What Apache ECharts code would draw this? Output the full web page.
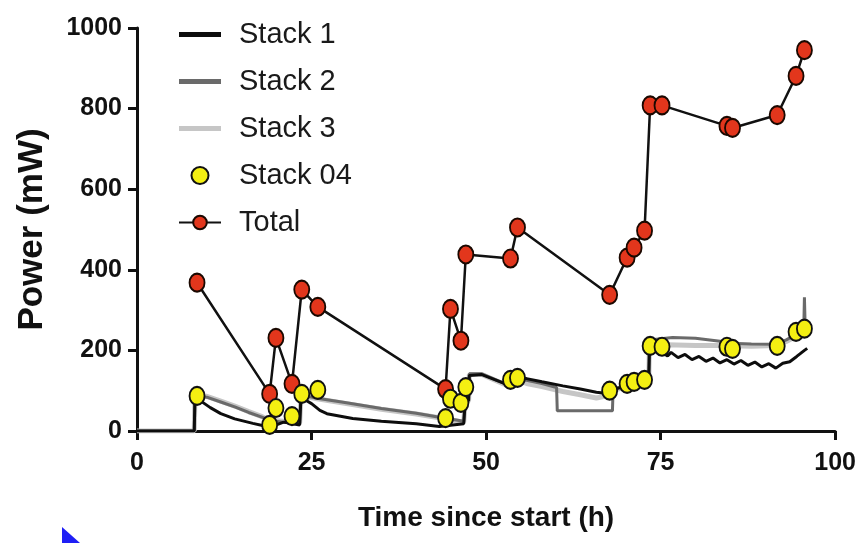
<!DOCTYPE html>
<html>
<head>
<meta charset="utf-8">
<script src="https://cdn.jsdelivr.net/npm/echarts@6/dist/echarts.min.js"></script>
<style>
  html, body { margin: 0; padding: 0; background: #fff; }
  #chart { width: 859px; height: 543px; }
</style>
</head>
<body>
<div id="chart"></div>
<script>
// Axis ticks
const xTicks = [0, 25, 50, 75, 100];
const yTicks = [0, 200, 400, 600, 800, 1000];

// Continuous logging of each stack (time in h, power in mW)
const stack1Time  = [0, 8.2, 8.3, 9.0, 10.5, 12.0, 14.0, 16.6, 18.6, 19.5, 21.0, 23.3, 23.5, 24.3, 25.0, 26.2, 27.2, 30.9, 35.0, 40.0, 43.3, 46.8, 47.0, 47.5, 47.6, 49.4, 52.6, 53.5, 54.5, 55.8, 58.0, 61.0, 63.5, 65.8, 68.0, 68.2, 70.0, 72.7, 73.3, 73.4, 75.0, 76.0, 76.5, 77.5, 78.5, 79.5, 80.5, 81.5, 82.5, 83.5, 84.5, 85.5, 86.5, 87.5, 88.5, 89.5, 90.5, 91.5, 92.5, 93.5, 94.5, 95.6, 96.0];
const stack1Power = [0, 0, 80, 76, 58, 43, 30, 19, 11, 12, 22, 15, 88, 75, 68, 51, 43, 31, 24, 18, 11, 18, 70, 76, 138, 140, 118, 124, 130, 130, 122, 112, 104, 96, 92, 102, 112, 124, 128, 200, 198, 186, 195, 182, 190, 177, 185, 173, 181, 169, 177, 166, 175, 163, 171, 159, 167, 156, 168, 172, 185, 200, 205];

const stack2Time  = [0, 8.2, 8.3, 10.0, 12.0, 14.0, 16.0, 18.0, 19.0, 21.0, 23.3, 23.5, 25.8, 30.0, 35.0, 40.0, 43.3, 46.8, 47.0, 47.5, 47.6, 49.4, 52.6, 53.5, 54.5, 55.8, 58.0, 60.1, 60.2, 68.1, 68.2, 70.0, 72.7, 73.3, 73.4, 76.7, 80.0, 83.8, 85.0, 88.0, 91.5, 93.0, 95.5, 95.6, 95.7];
const stack2Power = [0, 0, 86, 84, 72, 60, 46, 34, 26, 22, 18, 90, 81, 70, 56, 44, 34, 24, 72, 78, 142, 142, 118, 124, 130, 126, 118, 108, 50, 50, 104, 114, 124, 130, 226, 232, 230, 222, 218, 216, 215, 226, 250, 332, 265];

const stack3Time  = [0, 8.2, 8.3, 10.0, 12.0, 14.0, 16.0, 18.0, 19.0, 21.0, 23.3, 23.5, 25.8, 30.0, 35.0, 40.0, 43.3, 46.8, 47.0, 47.5, 47.6, 49.4, 52.6, 53.5, 54.5, 55.8, 58.0, 61.0, 63.5, 65.8, 68.0, 68.2, 70.0, 72.7, 73.3, 73.4, 76.0, 80.0, 84.0, 88.0, 91.5, 93.0, 95.5];
const stack3Power = [0, 0, 88, 86, 74, 62, 48, 35, 27, 24, 20, 88, 80, 68, 54, 42, 33, 22, 70, 76, 140, 140, 116, 122, 126, 118, 110, 98, 90, 82, 90, 100, 110, 120, 124, 212, 214, 212, 212, 210, 212, 222, 246];

// Spot measurements
const spotTime     = [8.6, 19.0, 19.9, 22.2, 23.6, 25.9, 44.2, 44.9, 46.4, 47.1, 53.5, 54.5, 67.7, 70.2, 71.2, 72.7, 73.5, 75.2, 84.5, 85.3, 91.7, 94.4, 95.6];
const stack04Power = [87, 15, 57, 37, 92, 102, 32, 80, 70, 109, 127, 132, 100, 117, 122, 127, 211, 209, 209, 204, 211, 246, 254];
const totalPower   = [368, 92, 231, 117, 351, 308, 104, 303, 224, 438, 428, 505, 338, 430, 455, 497, 808, 808, 757, 752, 784, 881, 945];

const pairs = (xs, ys) => xs.map((x, i) => [x, ys[i]]);

const sans = 'Liberation Sans, Arial, Helvetica, sans-serif';
const tickFont = { fontFamily: sans, fontWeight: 'bold', fontSize: 25, color: '#111' };
const axisLine = { show: true, lineStyle: { color: '#111', width: 3 } };
const axisTick = { show: true, length: 9, lineStyle: { color: '#111', width: 3 } };
// plain bar icon for the continuous traces in the legend
const barIcon = 'path://M0 0H42V5H0Z';

const chart = echarts.init(document.getElementById('chart'), null, { renderer: 'canvas' });
chart.setOption({
  animation: false,
  backgroundColor: '#fff',
  grid: { left: 137, right: 23, top: 28, bottom: 112, containLabel: false },
  legend: {
    orient: 'vertical',
    left: 173,
    top: 13,
    itemWidth: 42,
    itemHeight: 17,
    itemGap: 14,
    textStyle: { fontFamily: sans, fontSize: 29, color: '#1a1a1a', padding: [0, 0, 0, 13], lineHeight: 33 },
    data: [
      { name: 'Stack 1', icon: barIcon, itemStyle: { color: '#0d0d0d' } },
      { name: 'Stack 2', icon: barIcon, itemStyle: { color: '#6a6a6a' } },
      { name: 'Stack 3', icon: barIcon, itemStyle: { color: '#c6c6c6' } },
      { name: 'Stack 04' },
      { name: 'Total' }
    ]
  },
  xAxis: {
    type: 'value', min: 0, max: 100, interval: 25,
    name: 'Time since start (h)', nameLocation: 'middle', nameGap: 73,
    nameTextStyle: { fontFamily: sans, fontWeight: 'bold', fontSize: 28, color: '#111' },
    axisLine, axisTick,
    axisLabel: Object.assign({ margin: 20, formatter: v => xTicks.includes(v) ? String(v) : '' }, tickFont),
    splitLine: { show: false }
  },
  yAxis: {
    type: 'value', min: 0, max: 1000, interval: 200,
    name: 'Power (mW)', nameLocation: 'middle', nameGap: 87, nameRotate: 90,
    nameTextStyle: { fontFamily: sans, fontWeight: 'bold', fontSize: 35, color: '#111' },
    axisLine, axisTick,
    axisLabel: Object.assign({ margin: 15, formatter: v => yTicks.includes(v) ? String(v) : '' }, tickFont),
    splitLine: { show: false }
  },
  series: [
    {
      name: 'Stack 3', type: 'line', symbol: 'none', z: 2,
      data: pairs(stack3Time, stack3Power),
      lineStyle: { color: '#c6c6c6', width: 5 }, itemStyle: { color: '#c6c6c6' }
    },
    {
      name: 'Stack 2', type: 'line', symbol: 'none', z: 3,
      data: pairs(stack2Time, stack2Power),
      lineStyle: { color: '#6a6a6a', width: 3 }, itemStyle: { color: '#6a6a6a' }
    },
    {
      name: 'Stack 1', type: 'line', symbol: 'none', z: 4,
      data: pairs(stack1Time, stack1Power),
      lineStyle: { color: '#0d0d0d', width: 3 }, itemStyle: { color: '#0d0d0d' }
    },
    {
      name: 'Total', type: 'line', symbol: 'circle', symbolSize: [15, 18], z: 5,
      data: pairs(spotTime, totalPower),
      lineStyle: { color: '#111', width: 2.5 },
      itemStyle: { color: '#e2361c', borderColor: '#1a0800', borderWidth: 2 }
    },
    {
      name: 'Stack 04', type: 'scatter', symbol: 'circle', symbolSize: [15, 18], z: 6,
      data: pairs(spotTime, stack04Power),
      itemStyle: { color: '#f4ef12', borderColor: '#111', borderWidth: 2, opacity: 1 }
    }
  ],
  graphic: [
    { type: 'polygon', shape: { points: [[62, 527], [62, 543], [80, 543]] }, style: { fill: '#1f1ff5' } }
  ]
});
</script>
</body>
</html>
